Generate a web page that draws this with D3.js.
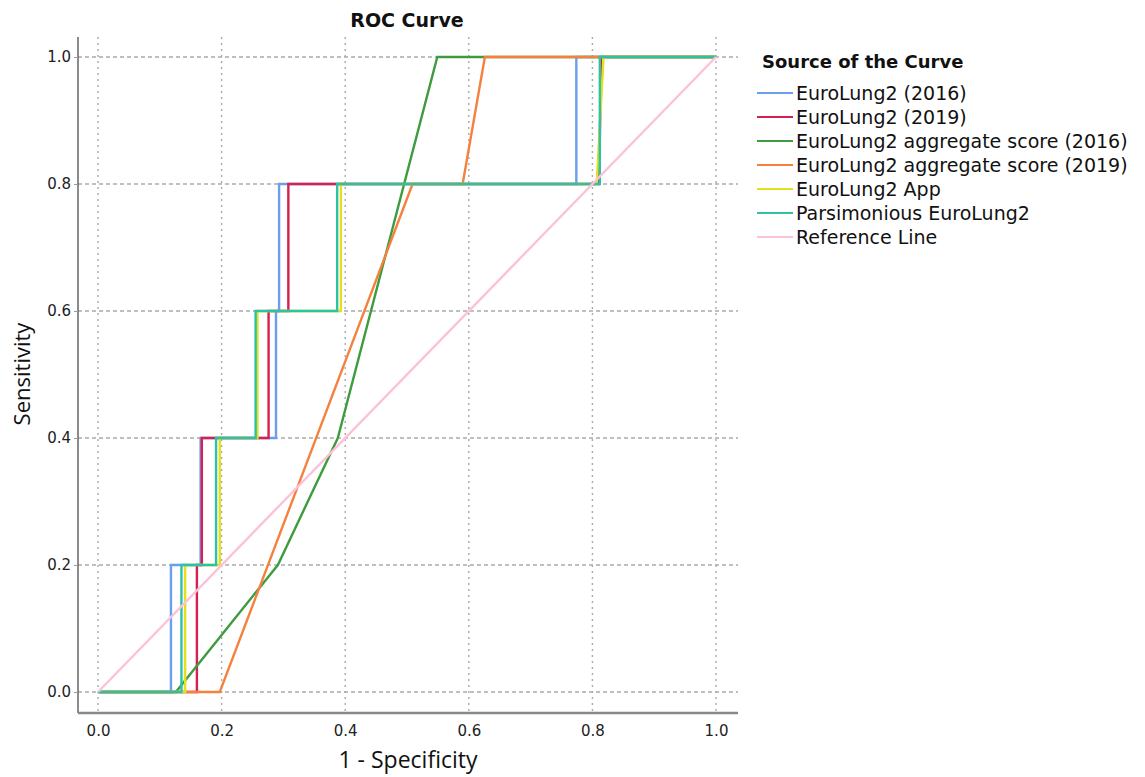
<!DOCTYPE html>
<html><head><meta charset="utf-8">
<script src="https://cdn.jsdelivr.net/npm/d3@7/dist/d3.min.js"></script>
<style>body{margin:0;background:#fff}</style>
</head><body>
<svg id="chart" width="1145" height="777"></svg>
<script>
const seriesNames = ["EuroLung2 (2016)","EuroLung2 (2019)","EuroLung2 aggregate score (2016)","EuroLung2 aggregate score (2019)","EuroLung2 App","Parsimonious EuroLung2","Reference Line"];
const seriesColors = ["#6a9ff0","#d6204f","#3f9b3f","#f5813f","#e4e01c","#2dc2a4","#fbc2da"];
const euroLung2016 = [[0,0],[0.118,0],[0.118,0.2],[0.166,0.2],[0.166,0.4],[0.288,0.4],[0.288,0.6],[0.293,0.6],[0.293,0.8],[0.774,0.8],[0.774,1],[1,1]];
const euroLung2019 = [[0,0],[0.160,0],[0.160,0.2],[0.168,0.2],[0.168,0.4],[0.276,0.4],[0.276,0.6],[0.308,0.6],[0.308,0.8],[0.811,0.8],[0.814,1],[1,1]];
const aggregate2016 = [[0,0],[0.126,0],[0.291,0.2],[0.388,0.4],[0.549,1],[1,1]];
const aggregate2019 = [[0,0],[0.197,0],[0.509,0.8],[0.590,0.8],[0.626,1],[1,1]];
const euroLungApp = [[0,0],[0.141,0],[0.141,0.2],[0.197,0.2],[0.197,0.4],[0.258,0.4],[0.258,0.6],[0.393,0.6],[0.393,0.8],[0.807,0.8],[0.818,1],[1,1]];
const parsimonious = [[0,0],[0.135,0],[0.135,0.2],[0.191,0.2],[0.191,0.4],[0.255,0.4],[0.255,0.6],[0.387,0.6],[0.387,0.8],[0.812,0.8],[0.812,1],[1,1]];
const referenceLine = [[0,0],[1,1]];
const xTicks = [0,0.2,0.4,0.6,0.8,1.0];
const yTicks = [0,0.2,0.4,0.6,0.8,1.0];
const allSeries = [euroLung2016, euroLung2019, aggregate2016, aggregate2019, euroLungApp, parsimonious, referenceLine];

const svg = d3.select("#chart");
const L = 78, R = 738, T = 37, B = 713;
const x = d3.scaleLinear().domain([-0.0324, 1.0356]).range([L, R]);
const y = d3.scaleLinear().domain([-0.0331, 1.0315]).range([B, T]);

// grid
svg.append("g").selectAll("line").data(yTicks).join("line")
  .attr("x1", L).attr("x2", R).attr("y1", d => y(d)).attr("y2", d => y(d))
  .attr("stroke", "#aaaaaa").attr("stroke-width", 1.4).attr("stroke-dasharray", "4,3");
svg.append("g").selectAll("line").data(xTicks).join("line")
  .attr("y1", T).attr("y2", B).attr("x1", d => x(d)).attr("x2", d => x(d))
  .attr("stroke", "#aaaaaa").attr("stroke-width", 1.4).attr("stroke-dasharray", "2,4");

// axes
const yAxis = d3.axisLeft(y).tickValues(yTicks).tickFormat(d3.format(".1f")).tickSize(4).tickPadding(3);
const gy = svg.append("g").attr("transform", `translate(${L},0)`).call(yAxis);
gy.select(".domain").attr("stroke", "#666").attr("stroke-width", 1.5).attr("d", `M0,${T}V${B}`);
gy.selectAll(".tick line").attr("stroke", "#999");
gy.selectAll("text").attr("font-family", "DejaVu Sans").attr("font-size", 15).attr("fill", "#222");

const xAxis = d3.axisBottom(x).tickValues(xTicks).tickFormat(d3.format(".1f")).tickSize(0).tickPadding(12);
const gx = svg.append("g").attr("transform", `translate(0,${B})`).call(xAxis);
gx.select(".domain").attr("stroke", "#888").attr("stroke-width", 2.5).attr("d", `M${L},0H${R}`);
gx.selectAll("text").attr("font-family", "DejaVu Sans").attr("font-size", 15).attr("fill", "#222");

// lines
const line = d3.line().x(d => x(d[0])).y(d => y(d[1]));
svg.append("g").selectAll("path").data(allSeries).join("path")
  .attr("d", line).attr("fill", "none")
  .attr("stroke", (d, i) => seriesColors[i])
  .attr("stroke-width", 2.4).attr("stroke-linejoin", "miter");

// titles
svg.append("text").attr("x", 407).attr("y", 27).attr("text-anchor", "middle")
  .attr("font-family", "DejaVu Sans").attr("font-weight", "bold").attr("font-size", 19).attr("fill", "#111")
  .text("ROC Curve");
svg.append("text").attr("x", 408).attr("y", 768).attr("text-anchor", "middle")
  .attr("font-family", "Open Sans").attr("font-size", 23).attr("fill", "#111")
  .text("1 - Specificity");
svg.append("text").attr("transform", "translate(30,374) rotate(-90)").attr("text-anchor", "middle")
  .attr("font-family", "Open Sans").attr("font-size", 22).attr("fill", "#111")
  .text("Sensitivity");

// legend
const lg = svg.append("g");
lg.append("text").attr("x", 762).attr("y", 68)
  .attr("font-family", "DejaVu Sans").attr("font-weight", "bold").attr("font-size", 18).attr("fill", "#111")
  .text("Source of the Curve");
const items = lg.selectAll("g.item").data(seriesNames).join("g").attr("class", "item")
  .attr("transform", (d, i) => `translate(0,${93 + i * 24})`);
items.append("line").attr("x1", 757).attr("x2", 793).attr("y1", 0).attr("y2", 0)
  .attr("stroke", (d, i) => seriesColors[i]).attr("stroke-width", 2.2);
items.append("text").attr("x", 796).attr("y", 7)
  .attr("font-family", "DejaVu Sans").attr("font-size", 19).attr("fill", "#111")
  .text(d => d);
</script>
</body></html>
